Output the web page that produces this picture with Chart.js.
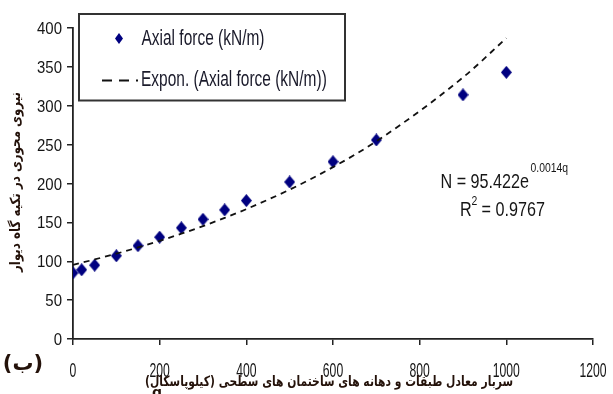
<!DOCTYPE html>
<html>
<head>
<meta charset="utf-8">
<script src="https://cdn.jsdelivr.net/npm/chart.js@4.4.1/dist/chart.umd.min.js"></script>
<style>
  html, body { margin: 0; padding: 0; background: #fff; }
  canvas { display: block; }
</style>
</head>
<body>
<canvas id="chart" width="613" height="394"></canvas>
<script>
// Surcharge q (kPa) and the measured axial force at the wall support (kN/m)
const surchargeQ = [0, 20, 50, 100, 150, 200, 250, 300, 350, 400, 500, 600, 700, 900, 1000];
const axialForce = [85, 89, 95, 107, 120, 131, 143, 154, 166, 178, 202, 228, 256, 314, 343];

// Axis tick labels
const xTickValues = [0, 200, 400, 600, 800, 1000, 1200];
const yTickValues = [0, 50, 100, 150, 200, 250, 300, 350, 400];

// Exponential fit N = a * e^(b q) and its coefficient of determination
const fitA = 95.422;
const fitB = 0.0014;
const fitR2 = 0.9767;

// Texts
const seriesLabel = 'Axial force (kN/m)';
const trendLabel = 'Expon. (Axial force (kN/m))';
const yTitle = 'نیروی محوری در تکیه گاه دیوار';
const xTitle = 'سربار معادل طبقات و دهانه های ساختمان های سطحی (کیلوپاسکال)';
const xTitleSymbol = 'q';
const panelTag = '(ب)';

const trendPoints = surchargeQ.map(q => ({ x: q, y: fitA * Math.exp(fitB * q) }));
const measuredPoints = surchargeQ.map((q, i) => ({ x: q, y: axialForce[i] }));

const NAVY = '#000080';
const INK = '#151515';
const TITLE_INK = '#24120a';

function diamond(w, h, color) {
  const c = document.createElement('canvas');
  c.width = w; c.height = h;
  const g = c.getContext('2d');
  g.fillStyle = color;
  g.beginPath();
  g.moveTo(w / 2, 0);
  g.lineTo(w, h / 2);
  g.lineTo(w / 2, h);
  g.lineTo(0, h / 2);
  g.closePath();
  g.fill();
  return c;
}

const pointMarker = diamond(11, 13, NAVY);
const legendMarker = diamond(8, 11, NAVY);

// Text drawn with a horizontal squeeze factor
function squeezedText(ctx, text, x, y, font, sx, align, color) {
  ctx.save();
  ctx.font = font;
  ctx.fillStyle = color;
  ctx.textAlign = align;
  ctx.textBaseline = 'alphabetic';
  ctx.translate(x, y);
  ctx.scale(sx, 1);
  ctx.fillText(text, 0, 0);
  ctx.restore();
}

// Right-to-left text stretched to a given length
function fittedRtl(ctx, text, cx, cy, font, length, angle, color) {
  ctx.save();
  ctx.font = font;
  ctx.direction = 'rtl';
  ctx.fillStyle = color;
  ctx.textAlign = 'center';
  ctx.textBaseline = 'middle';
  const w = ctx.measureText(text).width;
  ctx.translate(cx, cy);
  ctx.rotate(angle);
  ctx.scale(length / w, 1);
  ctx.fillText(text, 0, 0);
  ctx.restore();
}

const decorations = {
  id: 'decorations',
  beforeDraw(chart) {
    const ctx = chart.ctx;
    ctx.save();
    ctx.fillStyle = '#fff';
    ctx.fillRect(0, 0, chart.width, chart.height);
    ctx.restore();
  },
  afterDraw(chart) {
    const ctx = chart.ctx;
    const xs = chart.scales.x, ys = chart.scales.y;

    // Tick labels
    yTickValues.forEach(v => {
      squeezedText(ctx, String(v), 62, ys.getPixelForValue(v) + 6, '17px "Liberation Sans", Arial, sans-serif', 0.88, 'right', INK);
    });
    xTickValues.forEach(v => {
      squeezedText(ctx, String(v), xs.getPixelForValue(v), 377, '21px "Liberation Sans", Arial, sans-serif', 0.58, 'center', INK);
    });

    // Legend
    ctx.save();
    ctx.fillStyle = '#fff';
    ctx.fillRect(79, 14, 266, 86.5);
    ctx.strokeStyle = '#333';
    ctx.lineWidth = 2;
    ctx.strokeRect(79, 14, 266, 86.5);
    ctx.drawImage(legendMarker, 119 - 4, 38.5 - 5.5);
    ctx.strokeStyle = '#111';
    ctx.lineWidth = 2;
    ctx.setLineDash([10, 7, 10, 7, 2, 100]);
    ctx.beginPath();
    ctx.moveTo(102, 80.5);
    ctx.lineTo(140, 80.5);
    ctx.stroke();
    ctx.restore();
    const legendFont = '21.5px "Liberation Sans", Arial, sans-serif';
    squeezedText(ctx, seriesLabel, 141.5, 44.5, legendFont, 0.72, 'left', '#1a1a2a');
    squeezedText(ctx, trendLabel, 141, 86, legendFont, 0.72, 'left', '#1a1a2a');

    // Fit equation and R²
    const eqFont = '21px "Liberation Sans", Arial, sans-serif';
    const supFont = '13px "Liberation Sans", Arial, sans-serif';
    squeezedText(ctx, 'N = ' + fitA.toFixed(3) + 'e', 440.5, 187.5, eqFont, 0.77, 'left', INK);
    squeezedText(ctx, String(fitB) + 'q', 530.5, 172, supFont, 0.8, 'left', INK);
    squeezedText(ctx, 'R', 460, 215.5, eqFont, 0.77, 'left', INK);
    squeezedText(ctx, '2', 471.5, 205, supFont, 0.8, 'left', INK);
    squeezedText(ctx, ' = ' + fitR2.toFixed(4), 477, 215.5, eqFont, 0.77, 'left', INK);

    // Axis titles
    fittedRtl(ctx, yTitle, 16, 182, 'bold 14px "DejaVu Sans", sans-serif', 180, -Math.PI / 2, TITLE_INK);
    fittedRtl(ctx, xTitle, 329, 382, 'bold 14px "DejaVu Sans", sans-serif', 368, 0, TITLE_INK);
    squeezedText(ctx, xTitleSymbol, 157, 397, 'bold 14px "DejaVu Sans", sans-serif', 1, 'center', TITLE_INK);

    // Panel tag
    squeezedText(ctx, panelTag, 23, 370, 'bold 21px "DejaVu Sans", sans-serif', 1, 'center', TITLE_INK);
  }
};

new Chart(document.getElementById('chart'), {
  type: 'scatter',
  data: {
    datasets: [
      {
        label: trendLabel,
        type: 'line',
        data: trendPoints,
        borderColor: '#111',
        borderWidth: 1.8,
        borderDash: [6, 5],
        pointRadius: 0,
        cubicInterpolationMode: 'monotone',
        fill: false,
        order: 0
      },
      {
        label: seriesLabel,
        data: measuredPoints,
        pointStyle: pointMarker,
        backgroundColor: NAVY,
        borderColor: NAVY,
        order: 1
      }
    ]
  },
  options: {
    responsive: false,
    animation: false,
    events: [],
    layout: { padding: { top: 28, right: 20, bottom: 0, left: 0 } },
    plugins: {
      legend: { display: false },
      tooltip: { enabled: false }
    },
    scales: {
      x: {
        type: 'linear',
        min: 0,
        max: 1200,
        afterBuildTicks: s => { s.ticks = xTickValues.map(v => ({ value: v })); },
        afterFit: s => { s.height = 55; },
        ticks: { display: false },
        grid: { drawOnChartArea: false, drawTicks: true, tickLength: 6, color: '#222', lineWidth: 1.5 },
        border: { color: '#222', width: 1.8 }
      },
      y: {
        type: 'linear',
        min: 0,
        max: 400,
        afterBuildTicks: s => { s.ticks = yTickValues.map(v => ({ value: v })); },
        afterFit: s => { s.width = 73; },
        ticks: { display: false },
        grid: { drawOnChartArea: false, drawTicks: true, tickLength: 6, color: '#222', lineWidth: 1.5 },
        border: { color: '#222', width: 1.8 }
      }
    }
  },
  plugins: [decorations]
});
</script>
</body>
</html>
